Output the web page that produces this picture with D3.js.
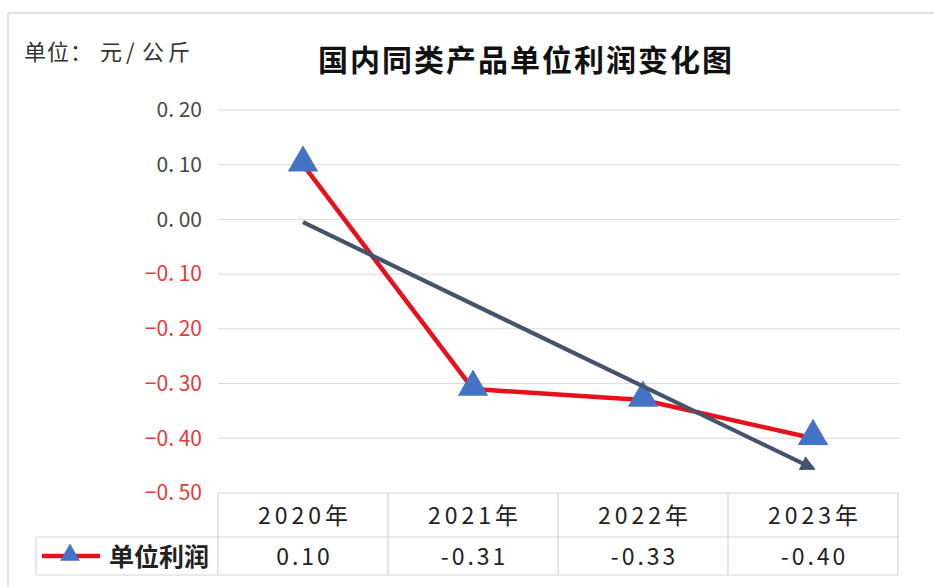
<!DOCTYPE html>
<html>
<head>
<meta charset="utf-8">
<style>
  body { margin: 0; background: #ffffff; }
  text { font-family: "Noto Sans CJK SC", "Noto Sans", sans-serif; }
  .grid line { stroke: #d9d9d9; stroke-width: 1; }
  .tbl line { stroke: #d4d4d4; stroke-width: 1.2; }
</style>
</head>
<body>
<svg id="chart" width="934" height="587"></svg>
<script src="https://cdnjs.cloudflare.com/ajax/libs/d3/7.8.5/d3.min.js"></script>
<script>
// data
var years = ["2020年", "2021年", "2022年", "2023年"];
var profit = [0.10, -0.31, -0.33, -0.40];
var profitLabels = ["0.10", "-0.31", "-0.33", "-0.40"];
var yTicks = [0.20, 0.10, 0.00, -0.10, -0.20, -0.30, -0.40, -0.50];
// linear trend line, start and end values
var trendYears = ["2020年", "2023年"];
var trendValues = [-0.005, -0.455];
var seriesName = "单位利润";

var svg = d3.select("#chart");

var x = d3.scaleBand().domain(years).range([218, 898]);
var y = d3.scaleLinear().domain([-0.5, 0.2]).range([493, 110]);
var cx = function(d) { return x(d) + x.bandwidth() / 2; };

// outer frame (top and left edges visible)
svg.append("line").attr("x1", 8).attr("x2", 934).attr("y1", 13).attr("y2", 13)
  .attr("stroke", "#d9d9d9").attr("stroke-width", 1.5);
svg.append("line").attr("x1", 8).attr("x2", 8).attr("y1", 13).attr("y2", 587)
  .attr("stroke", "#d9d9d9").attr("stroke-width", 1.5);

// title + unit
svg.append("text").attr("x", 526).attr("y", 71).attr("text-anchor", "middle")
  .attr("font-size", 30).attr("font-weight", "bold").attr("letter-spacing", 2)
  .attr("fill", "#111").text("国内同类产品单位利润变化图");
var unit = svg.append("text").attr("y", 60).attr("font-size", 22).attr("fill", "#333");
unit.append("tspan").attr("x", 24).attr("letter-spacing", 1).text("单位：");
unit.append("tspan").attr("x", 100).text("元");
unit.append("tspan").attr("x", 126).text("/");
unit.append("tspan").attr("x", 142).attr("letter-spacing", 4).text("公斤");

// gridlines
svg.append("g").attr("class", "grid")
  .selectAll("line").data(yTicks.filter(function(d) { return d > -0.5; }))
  .join("line")
  .attr("x1", 218).attr("x2", 900)
  .attr("y1", function(d) { return y(d); }).attr("y2", function(d) { return y(d); });

// y tick labels
function fmt(d) {
  var s = Math.abs(d).toFixed(2).replace(".", ". ");
  return (d < 0 ? "−" : "") + s;
}
svg.append("g").selectAll("text").data(yTicks).join("text")
  .attr("x", 202).attr("y", function(d) { return y(d); })
  .attr("dy", "0.35em").attr("text-anchor", "end")
  .attr("font-family", "'Liberation Sans', Arial, sans-serif")
  .attr("font-size", 21)
  .attr("fill", function(d) { return d < 0 ? "#e8393c" : "#484848"; })
  .text(fmt);

// data table
var tbl = svg.append("g").attr("class", "tbl");
var tTop = 493, tMid = 537, tBot = 575;
tbl.append("line").attr("x1", 218).attr("x2", 898).attr("y1", tTop).attr("y2", tTop);
tbl.append("line").attr("x1", 36).attr("x2", 898).attr("y1", tMid).attr("y2", tMid);
tbl.append("line").attr("x1", 36).attr("x2", 898).attr("y1", tBot).attr("y2", tBot);
tbl.append("line").attr("x1", 36).attr("x2", 36).attr("y1", tMid).attr("y2", tBot);
tbl.selectAll("line.v").data(years.concat(["end"])).join("line").attr("class", "v")
  .attr("x1", function(d, i) { return 218 + i * x.bandwidth(); })
  .attr("x2", function(d, i) { return 218 + i * x.bandwidth(); })
  .attr("y1", tTop).attr("y2", tBot);

svg.append("g").selectAll("text").data(years).join("text")
  .attr("x", function(d) { return cx(d) + 2; }).attr("y", (tTop + tMid) / 2 + 1).attr("dy", "0.36em")
  .attr("text-anchor", "middle").attr("font-size", 23).attr("letter-spacing", 4)
  .attr("fill", "#222").text(function(d) { return d; });
svg.append("g").selectAll("text").data(profitLabels).join("text")
  .attr("x", function(d, i) { return cx(years[i]) + 1.5; }).attr("y", (tMid + tBot) / 2 + 1).attr("dy", "0.36em")
  .attr("text-anchor", "middle").attr("font-size", 23).attr("letter-spacing", 3)
  .attr("fill", "#222").text(function(d) { return d; });

// legend inside table
var tri = d3.symbol().type(d3.symbolTriangle);
svg.append("line").attr("x1", 42).attr("x2", 100).attr("y1", 556).attr("y2", 556)
  .attr("stroke", "#e8101a").attr("stroke-width", 4.5);
svg.append("path").attr("d", tri.size(170)()).attr("transform", "translate(70,555)")
  .attr("fill", "#4472c4");
svg.append("text").attr("x", 109).attr("y", 557).attr("dy", "0.36em")
  .attr("font-size", 25).attr("font-weight", "bold")
  .attr("fill", "#222").text(seriesName);

// series line
var line = d3.line()
  .x(function(d, i) { return cx(years[i]); })
  .y(function(d) { return y(d); });
svg.append("path").datum(profit).attr("d", line)
  .attr("fill", "none").attr("stroke", "#e8101a").attr("stroke-width", 4.5)
  .attr("stroke-linejoin", "round");

// markers
svg.append("g").selectAll("path").data(profit).join("path")
  .attr("d", tri.size(400)())
  .attr("transform", function(d, i) { return "translate(" + cx(years[i]) + "," + (y(d) - 2) + ")"; })
  .attr("fill", "#4472c4");

// trend line with arrow head
svg.append("defs").append("marker")
  .attr("id", "arrow").attr("viewBox", "0 0 10 10")
  .attr("refX", 8).attr("refY", 5)
  .attr("markerWidth", 4.2).attr("markerHeight", 3.6)
  .attr("orient", "auto")
  .append("path").attr("d", "M0,0 L10,5 L0,10 Z").attr("fill", "#44546a");
svg.append("line")
  .attr("x1", cx(trendYears[0])).attr("y1", y(trendValues[0]))
  .attr("x2", cx(trendYears[1])).attr("y2", y(trendValues[1]))
  .attr("stroke", "#44546a").attr("stroke-width", 4.2)
  .attr("marker-end", "url(#arrow)");
</script>
</body>
</html>
